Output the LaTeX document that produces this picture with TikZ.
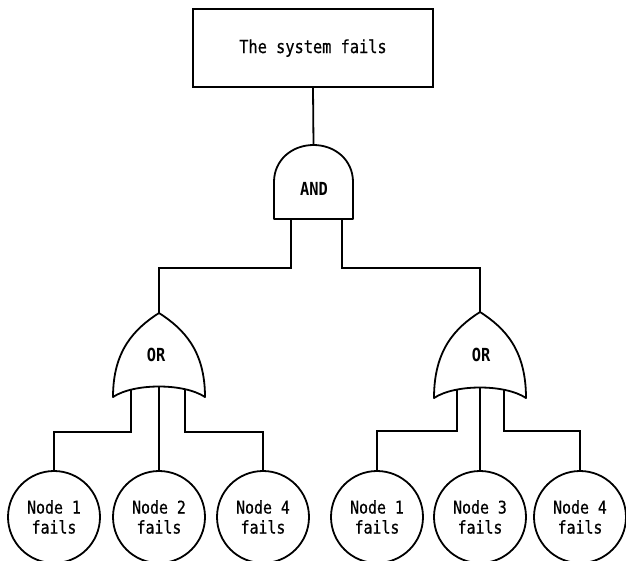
\documentclass[tikz,border=0pt]{standalone}
\usepackage{fontspec}
\newfontfamily\twfont[FakeBold=0.5,FakeStretch=0.85]{DejaVu Sans Mono}
\newfontfamily\twbold[FakeStretch=0.85]{DejaVu Sans Mono Bold}
\usetikzlibrary{calc}
\begin{document}
\begin{tikzpicture}[x=1pt,y=-1pt,
  wire/.style={line width=1.8pt,line join=miter},
  gate/.style={line width=1.8pt,fill=white,line join=round},
  event/.style={draw,line width=1.8pt,minimum width=240pt,minimum height=78pt,
    font=\twfont\fontsize{18}{20}\selectfont},
  basic/.style={draw,circle,line width=1.8pt,minimum size=92pt,inner sep=0pt,
    align=center,font=\twfont\fontsize{17.5}{20}\selectfont},
  gatelabel/.style={font=\twbold\fontsize{18}{20}\selectfont}]
\useasboundingbox (0,0) rectangle (626,560);
\clip (0,0) rectangle (626,560);
\fill[white] (0,0) rectangle (626,560);

% top event
\node[event] (top) at (313,48) {The system fails};

% AND gate anchors
\coordinate (andIn) at (313.5,145);
\coordinate (andL) at (291,215);
\coordinate (andR) at (342,215);

% OR gate anchors
\coordinate (orAIn) at (159,313);
\coordinate (orAl) at (131,385);
\coordinate (orAm) at (159,385);
\coordinate (orAr) at (185,385);
\coordinate (orBIn) at (480,312);
\coordinate (orBl) at (457,385);
\coordinate (orBm) at (480,385);
\coordinate (orBr) at (504,385);

% basic events
\node[basic] (e1) at (54,517) {Node 1\\fails};
\node[basic] (e2) at (159,517) {Node 2\\fails};
\node[basic] (e3) at (263,517) {Node 4\\fails};
\node[basic] (e4) at (377,517) {Node 1\\fails};
\node[basic] (e5) at (480,517) {Node 3\\fails};
\node[basic] (e6) at (580,517) {Node 4\\fails};

% connectors
\draw[wire] (top.south) -- (andIn);
\draw[wire] (andL) -- ++(0,53) -| (orAIn);
\draw[wire] (andR) -- ++(0,53) -| (orBIn);
\draw[wire] (orAl) -- ++(0,47) -| (e1.north);
\draw[wire] (orAm) -- (e2.north);
\draw[wire] (orAr) -- ++(0,47) -| (e3.north);
\draw[wire] (orBl) -- ++(0,46) -| (e4.north);
\draw[wire] (orBm) -- (e5.north);
\draw[wire] (orBr) -- ++(0,46) -| (e6.north);

% AND gate
\draw[gate] (274,219) -- (274,182)
  .. controls (274,160) and (292,145) .. (313.5,145)
  .. controls (335,145) and (353,160) .. (353,182)
  -- (353,219) -- cycle;
\node[gatelabel] (andlbl) at (314,189) {AND};

% OR gates
\draw[gate] (159,313) .. controls (134,329) and (113,351) .. (113,397)
  .. controls (134,383) and (184,383) .. (205,397)
  .. controls (205,351) and (184,329) .. (159,313) -- cycle;
\node[gatelabel] (oralbl) at (156,355) {OR};

\draw[gate] (480,312) .. controls (455,328) and (434,350) .. (434,398)
  .. controls (455,384) and (505,384) .. (526,398)
  .. controls (526,350) and (505,328) .. (480,312) -- cycle;
\node[gatelabel] (orblbl) at (481,355) {OR};
\end{tikzpicture}
\end{document}
